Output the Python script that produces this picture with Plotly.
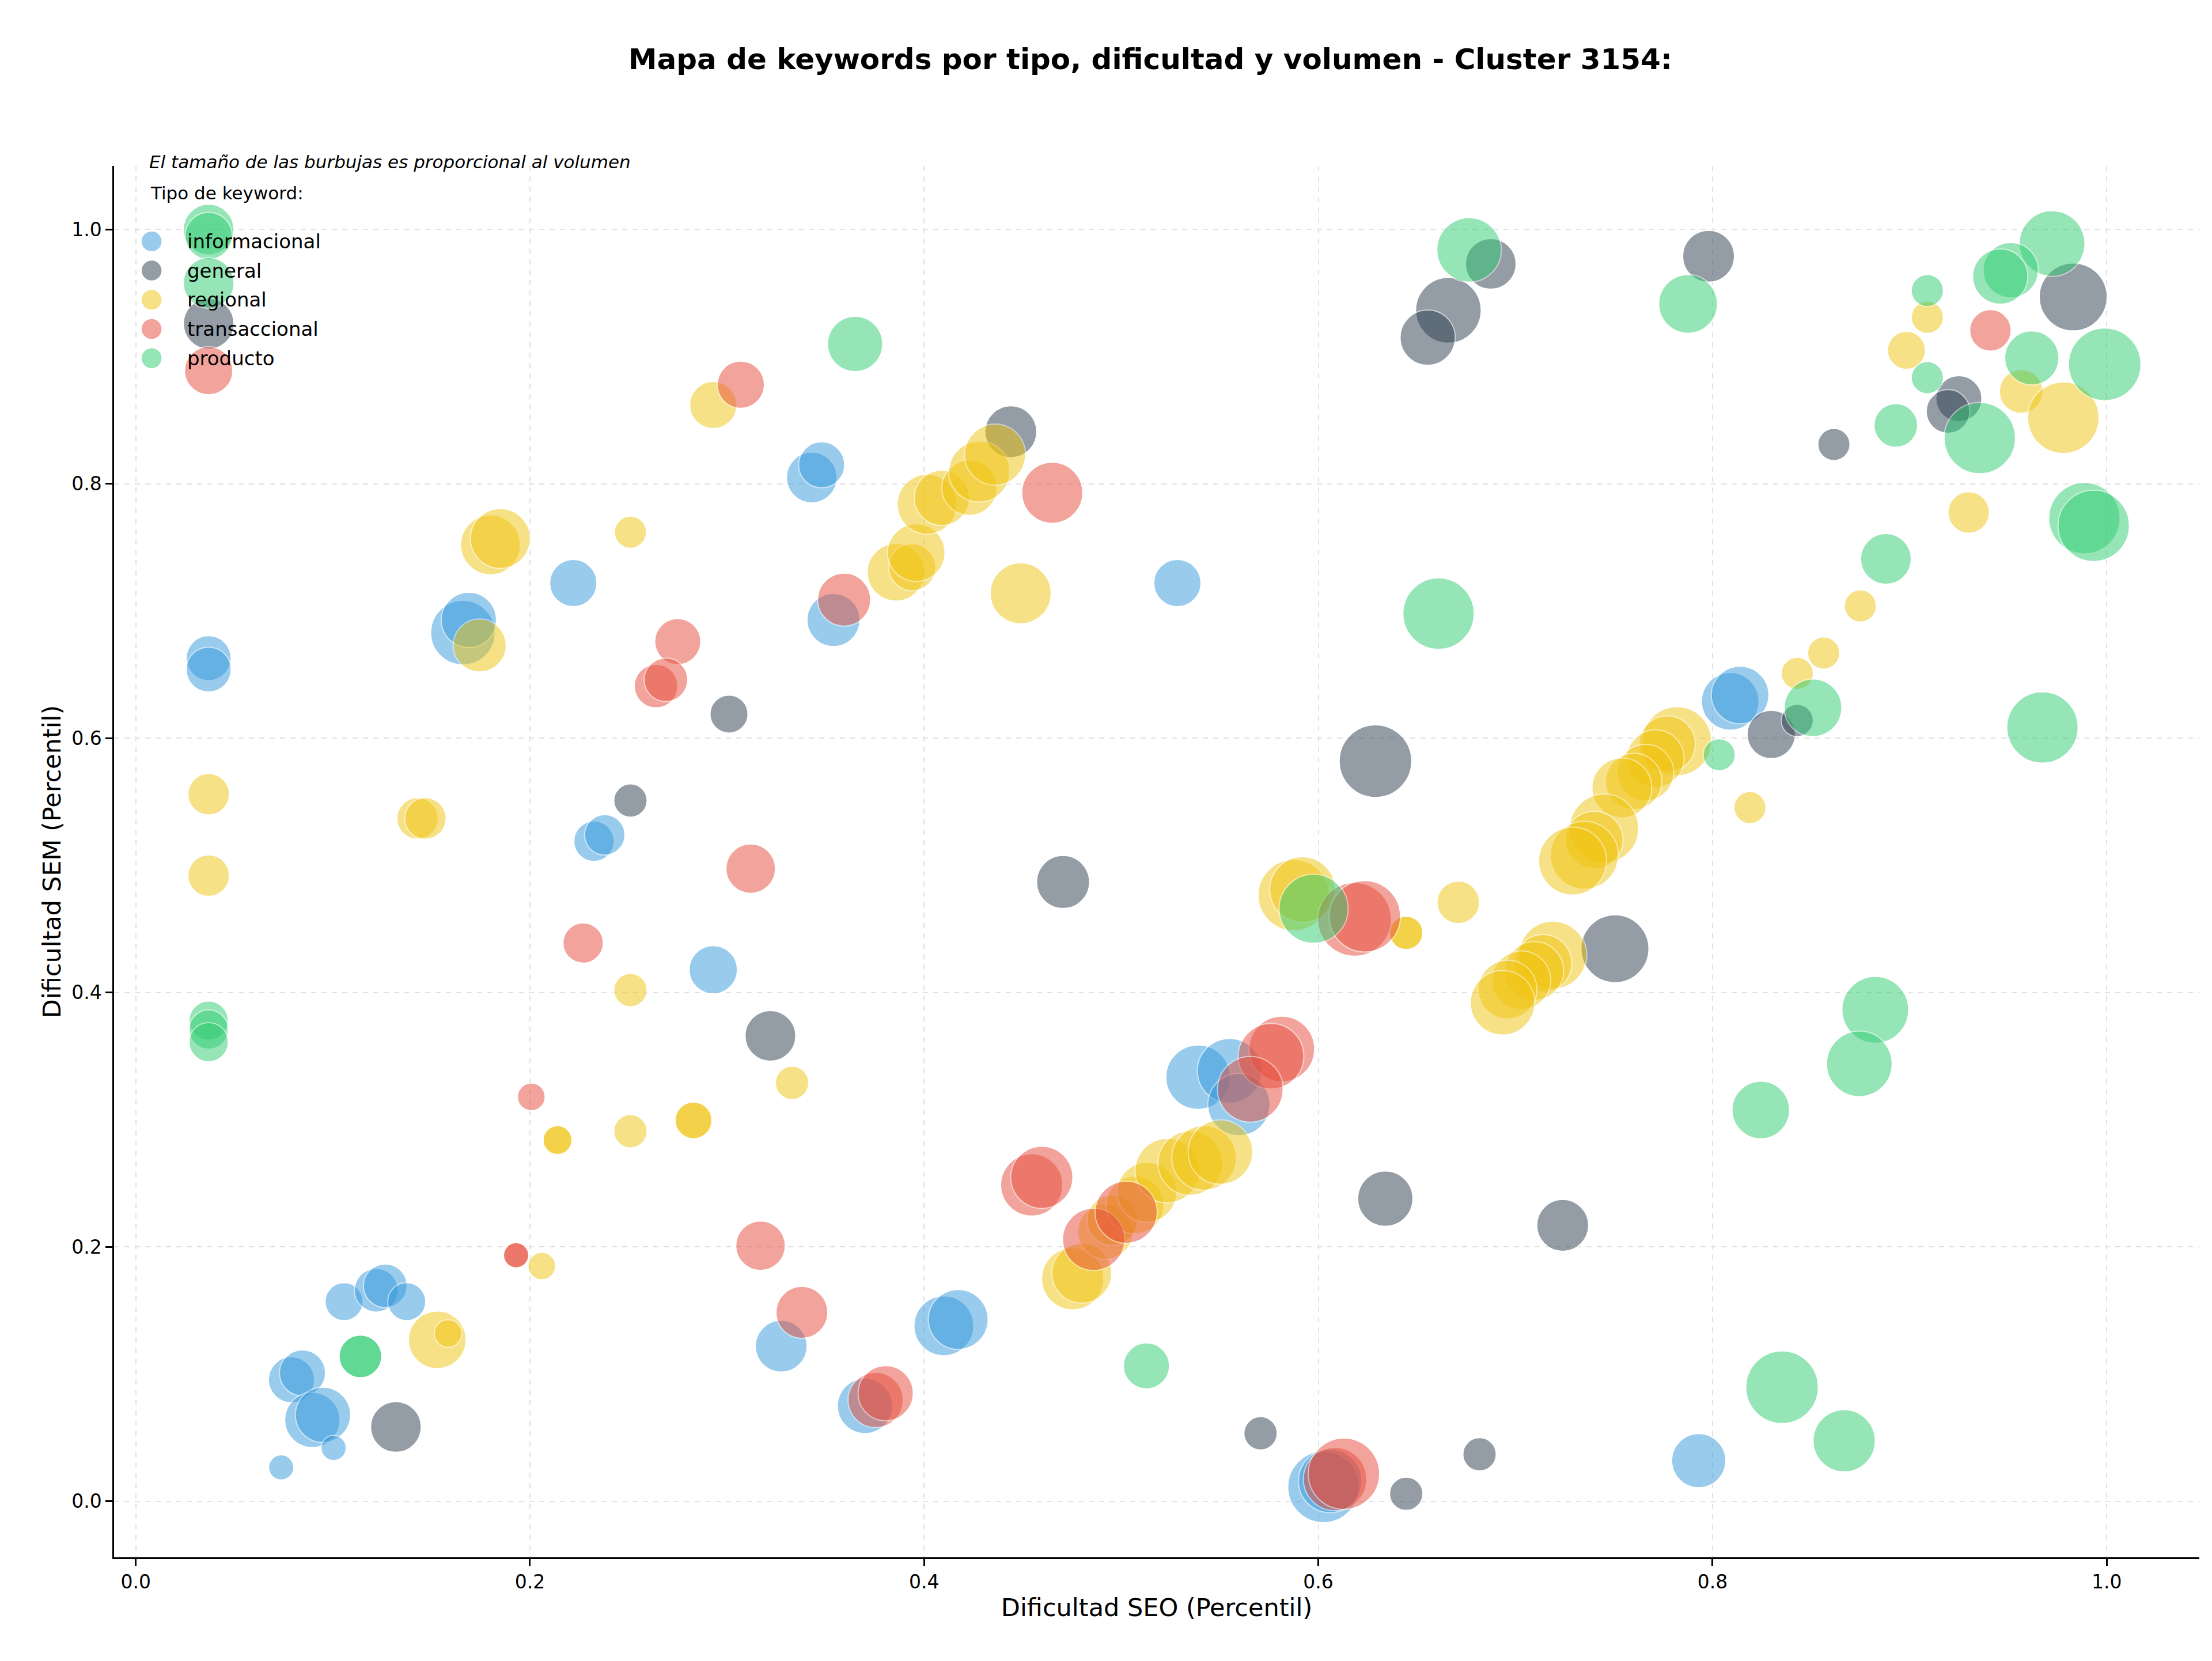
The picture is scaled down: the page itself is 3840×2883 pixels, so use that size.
import plotly.graph_objects as go

# ---------------- data ----------------
categorias = ["informacional", "general", "regional", "transaccional", "producto"]
colores = ["#3498db", "#2c3e50", "#f1c40f", "#e74c3c", "#2ecc71"]

info_seo = [0.037, 0.037, 0.343, 0.348, 0.222, 0.166, 0.169, 0.2325, 0.238, 0.293, 0.3275, 0.1057, 0.122,
            0.1266, 0.1375, 0.079, 0.0846, 0.0896, 0.095, 0.1004, 0.0738, 0.5285, 0.354, 0.809, 0.814, 0.539,
            0.555, 0.5597, 0.410, 0.4173, 0.370, 0.6026, 0.606, 0.793]
info_sem = [0.663, 0.654, 0.805, 0.815, 0.722, 0.683, 0.693, 0.519, 0.524, 0.418, 0.122, 0.157, 0.166,
            0.1695, 0.157, 0.0956, 0.101, 0.064, 0.068, 0.042, 0.0267, 0.722, 0.693, 0.629, 0.634, 0.3335,
            0.3385, 0.312, 0.138, 0.143, 0.075, 0.0113, 0.016, 0.032]
info_vol = [1520, 1520, 1940, 1600, 1680, 3140, 2300, 1230, 1230, 1760, 2030, 1090, 1440,
            1440, 1090, 1600, 1600, 2300, 2300, 480, 480, 1680, 2120, 2500, 2500, 3140,
            3140, 2920, 2700, 2700, 2300, 3840, 3030, 2210]

gen_seo = [0.037, 0.301, 0.251, 0.322, 0.132, 0.6875, 0.666, 0.6555, 0.444, 0.798, 0.925, 0.9195, 0.8616,
           0.983, 0.8298, 0.843, 0.7505, 0.629, 0.4705, 0.634, 0.5707, 0.6446, 0.6818, 0.724]
gen_sem = [0.926, 0.619, 0.551, 0.366, 0.0585, 0.973, 0.9365, 0.915, 0.841, 0.979, 0.867, 0.857, 0.831,
           0.947, 0.603, 0.614, 0.4345, 0.582, 0.487, 0.238, 0.0535, 0.006, 0.037, 0.217]
gen_vol = [1940, 1090, 840, 1940, 1940, 1940, 3250, 2300, 2030, 2030, 1600, 1440, 780,
           3480, 1760, 780, 3480, 3970, 2120, 2300, 840, 840, 840, 2030]

reg_seo = [0.293, 0.180, 0.185, 0.251, 0.1745, 0.037, 0.143, 0.147, 0.037, 0.251, 0.333, 0.214, 0.214,
           0.251, 0.283, 0.283, 0.206, 0.153, 0.1585,
           0.3857, 0.394, 0.396, 0.4015, 0.409, 0.423, 0.428, 0.436, 0.449,
           0.909, 0.8984, 0.9566, 0.978, 0.930, 0.875, 0.8564, 0.843, 0.819,
           0.782, 0.777, 0.771, 0.766, 0.760, 0.754, 0.745, 0.740, 0.735, 0.729,
           0.719, 0.714, 0.7096, 0.703, 0.696, 0.6935,
           0.5875, 0.592, 0.6446, 0.6446, 0.671,
           0.4754, 0.480, 0.492, 0.4955, 0.507, 0.513, 0.5234, 0.535, 0.542, 0.5503]
reg_sem = [0.862, 0.752, 0.757, 0.762, 0.673, 0.556, 0.537, 0.537, 0.492, 0.402, 0.329, 0.284, 0.284,
           0.291, 0.2995, 0.2995, 0.185, 0.127, 0.132,
           0.7305, 0.7345, 0.746, 0.784, 0.789, 0.797, 0.8097, 0.823, 0.714,
           0.931, 0.905, 0.8727, 0.852, 0.7775, 0.704, 0.667, 0.651, 0.5455,
           0.5977, 0.5954, 0.584, 0.573, 0.566, 0.561, 0.529, 0.520, 0.508, 0.5035,
           0.4295, 0.423, 0.417, 0.4097, 0.4024, 0.392,
           0.4766, 0.481, 0.447, 0.447, 0.471,
           0.175, 0.1794, 0.212, 0.221, 0.233, 0.243, 0.26, 0.266, 0.27, 0.2746]
reg_vol = [1680, 2700, 2700, 780, 2120, 1300, 1300, 1300, 1300, 840, 840, 630, 630,
           840, 1020, 1020, 580, 2500, 580,
           2500, 1680, 2500, 2700, 2300, 2300, 2810, 2810, 2810,
           780, 1090, 1440, 3840, 1300, 780, 780, 780, 780,
           3600, 2400, 2500, 2400, 2400, 2700, 3600, 2500, 3480, 3480,
           3480, 2500, 2600, 2600, 2600, 3140,
           3840, 3250, 840, 840, 1370,
           2920, 2700, 2300, 1940, 2500, 2700, 3140, 3140, 3140, 3140]

tra_seo = [0.037, 0.307, 0.275, 0.264, 0.269, 0.312, 0.227, 0.2007, 0.317, 0.338, 0.193, 0.193, 0.465,
           0.3594, 0.941, 0.6184, 0.6236, 0.5815, 0.576, 0.5655, 0.4546, 0.4597, 0.486, 0.5025, 0.3754,
           0.3805, 0.6085, 0.613]
tra_sem = [0.889, 0.878, 0.676, 0.641, 0.646, 0.4975, 0.439, 0.318, 0.201, 0.1486, 0.1935, 0.1935, 0.793,
           0.709, 0.9207, 0.4576, 0.46, 0.3557, 0.35, 0.324, 0.2488, 0.2547, 0.206, 0.2273, 0.0797,
           0.085, 0.0175, 0.0217]
tra_vol = [1760, 1680, 1600, 1440, 1440, 1850, 1230, 580, 1850, 2030, 480, 480, 2810,
           2120, 1300, 4100, 3840, 3250, 3250, 3250, 2920, 2920, 2920, 2920, 2300,
           2300, 3030, 3840]

pro_seo = [0.037, 0.037, 0.037, 0.037, 0.037, 0.037, 0.114, 0.114, 0.365, 0.6765, 0.661, 0.7876, 0.909,
           0.909, 0.893, 0.9356, 0.9723, 0.9513, 0.946, 0.962, 0.999, 0.9887, 0.9934, 0.888, 0.851,
           0.8034, 0.9674, 0.8826, 0.8745, 0.8245, 0.5976, 0.5128, 0.8353, 0.8668]
pro_sem = [1.0, 0.995, 0.958, 0.378, 0.371, 0.361, 0.114, 0.114, 0.910, 0.984, 0.698, 0.9415, 0.952,
           0.8835, 0.846, 0.836, 0.989, 0.968, 0.963, 0.899, 0.894, 0.773, 0.767, 0.741, 0.624,
           0.587, 0.6085, 0.3865, 0.344, 0.3077, 0.466, 0.1065, 0.0897, 0.0476]
pro_vol = [1940, 1680, 1940, 1160, 1160, 1160, 1370, 1370, 2300, 3140, 3840, 2600, 780,
           780, 1440, 3840, 3250, 2300, 2300, 2210, 3970, 3840, 3840, 1940, 2500,
           780, 3840, 3360, 3250, 2500, 3600, 1600, 3970, 2920]

tick_vals = [0.0, 0.2, 0.4, 0.6, 0.8, 1.0]
titulo = "Mapa de keywords por tipo, dificultad y volumen - Cluster 3154:"
nota = "El tamaño de las burbujas es proporcional al volumen"
titulo_leyenda = "Tipo de keyword:"

series = [(info_seo, info_sem, info_vol), (gen_seo, gen_sem, gen_vol), (reg_seo, reg_sem, reg_vol),
          (tra_seo, tra_sem, tra_vol), (pro_seo, pro_sem, pro_vol)]

FONT = "DejaVu Sans"
fig = go.Figure()
for name, color, (xs, ys, vs) in zip(categorias, colores, series):
    fig.add_trace(go.Scatter(
        x=xs, y=ys, mode="markers", name=name, showlegend=False,
        marker=dict(size=vs, sizemode="area", sizeref=0.5, color=color, opacity=0.5,
                    line=dict(color="white", width=2)),
    ))

# manual legend (matplotlib-like, frameless)
shapes = []
annotations = []
leg_x_marker = 0.018
leg_x_text = 0.0345
leg_y0 = 0.9458
leg_dy = 0.0210
annotations.append(dict(text=titulo_leyenda, xref="paper", yref="paper", x=0.0168, y=0.9805,
                        xanchor="left", yanchor="middle", showarrow=False,
                        font=dict(family=FONT, size=31, color="black")))
for i, (name, color) in enumerate(zip(categorias, colores)):
    yy = leg_y0 - i * leg_dy
    shapes.append(dict(type="circle", xref="paper", yref="paper", xsizemode="pixel", ysizemode="pixel",
                       xanchor=leg_x_marker, yanchor=yy, x0=-18, x1=18, y0=-18, y1=18,
                       fillcolor=color, opacity=0.5, line=dict(color="white", width=1.5), layer="above"))
    annotations.append(dict(text=name, xref="paper", yref="paper", x=leg_x_text, y=yy,
                            xanchor="left", yanchor="middle", showarrow=False,
                            font=dict(family=FONT, size=34, color="black")))
annotations.append(dict(text="<i>" + nota + "</i>", xref="paper", yref="paper", x=0.0163, y=1.0029,
                        xanchor="left", yanchor="middle", showarrow=False,
                        font=dict(family=FONT, size=31, color="black")))

axis_common = dict(
    tickvals=tick_vals, tickformat=".1f", showgrid=True, gridcolor="#e2e2e2", griddash="dash",
    gridwidth=2, zeroline=False, showline=True, linecolor="black", linewidth=2.5, ticks="outside",
    ticklen=12, tickwidth=2.5, tickcolor="black", mirror=False,
    tickfont=dict(family=FONT, size=33, color="black"),
)

fig.update_layout(
    width=3840, height=2883, autosize=False,
    paper_bgcolor="white", plot_bgcolor="white",
    margin=dict(l=198, r=22, t=288, b=180, pad=0),
    title=dict(text="<b>" + titulo + "</b>", x=0.520, xanchor="center", y=0.9643, yanchor="middle",
               xref="container", yref="container", font=dict(family=FONT, size=50, color="black")),
    xaxis=dict(range=[-0.011, 1.047],
               title=dict(text="Dificultad SEO (Percentil)", font=dict(family=FONT, size=43, color="black"),
                          standoff=10),
               **axis_common),
    yaxis=dict(range=[-0.044, 1.05],
               title=dict(text="Dificultad SEM (Percentil)", font=dict(family=FONT, size=43, color="black"),
                          standoff=6),
               **axis_common),
    shapes=shapes, annotations=annotations, showlegend=False,
)

fig.write_html("out.html")
